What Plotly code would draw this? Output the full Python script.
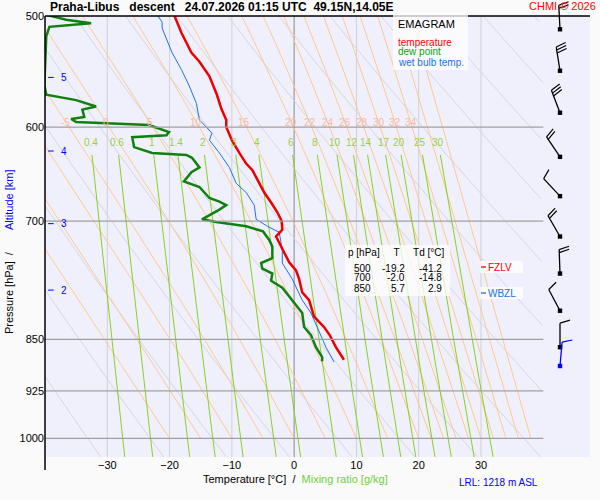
import numpy as np
import plotly.graph_objects as go

# ---------------- data ----------------
temp_p = [500,514,531,539,552,569,582,593,600,613,626,637,644,654,668,679,690,700,710,718,730,749,759,770,787,797,819,833,844,861,879]
temp_t = [-19.2,-18.1,-16.5,-15.2,-13.6,-12.4,-11.7,-10.9,-10.9,-10.0,-8.8,-7.7,-6.7,-5.9,-4.8,-3.7,-2.7,-2.0,-1.9,-2.9,-2.1,-0.8,0.3,0.8,1.3,2.4,3.2,4.8,5.7,6.7,8.0]

wb_p = [499,505,510,531,546,560,577,593,600,606,613,626,641,658,668,682,698,706,713,734,750,770,797,814,833,861,882]
wb_t = [-22.0,-21.2,-21.2,-19.6,-18.1,-16.9,-15.7,-15.2,-14.1,-13.2,-13.6,-12.0,-10.4,-9.3,-7.7,-6.4,-6.1,-4.3,-2.4,-1.9,-1.9,-0.3,1.3,2.7,3.7,5.1,6.4]

dew_p = [499,503,506,509,517,560,569,574,580,583,590,592,595,596,598,605,608,610,620,626,628,631,641,646,656,662,674,678,682,687,698,701,706,712,722,730,744,750,757,763,772,781,797,814,833,844,861,875,881]
dew_t = [-39.8,-36.6,-32.6,-39.3,-39.8,-40.1,-39.8,-35.0,-31.8,-34.0,-33.7,-35.8,-35.0,-30.2,-23.3,-20.1,-20.5,-26.0,-25.7,-22.8,-17.3,-16.4,-15.2,-16.5,-17.7,-15.2,-13.6,-12.0,-10.9,-12.0,-14.8,-12.5,-7.7,-5.0,-4.0,-3.5,-3.5,-5.3,-5.1,-3.5,-3.7,-1.9,-0.3,1.3,1.6,2.7,3.5,4.5,4.5]

press_ticks = [500,600,700,850,925,1000]
temp_ticks = [-30,-20,-10,0,10,20,30]
alt_km = [5,4,3,2]
alt_p = [553,624,703,784]

mix_ratios = [0.4,0.6,1,1.4,2,3,4,6,8,10,12,14,17,20,25,30]
theta_w_labeled = [-5,0,5,10,15,20,22,24,26,28,30,32,34]
theta_w_extra = [-20,-15,-10,36,38]
dry_thetas = list(range(230,420,10))

wind_p = [511,547,586,630,672,718,763,811,861,888]
wind_dir = [357,351,339,326,317,330,358,332,0,5]
wind_spd = [20,30,30,20,10,20,20,10,10,10]
wind_col = ['black']*9 + ['blue']

table_rows = [(500,-19.2,-41.2),(700,-2.0,-14.8),(850,5.7,2.9)]

# -------------- helpers --------------
XMIN, XMAX = -40, 47.5
PTOP, PBOT = 500, 1031
L, R, T, B = 45, 10, 16, 43
W, H = 600, 500
PW, PH = W-L-R, H-T-B
TCLIP = 40

def px2paper(x, y):
    return (x-L)/PW, (H-B-y)/PH

def es(t):
    return 6.112*np.exp(17.67*t/(t+243.5))

def clip(x, y):
    x = np.asarray(x, float); y = np.asarray(y, float)
    m = x <= TCLIP
    return np.where(m, x, np.nan), y

def moist(tw):
    def dTdp(p, Tk):
        tc = Tk-273.15
        rs = 0.622*es(tc)/(p-es(tc))
        Lv, Rd, cp = 2.5e6, 287.0, 1004.0
        num = Rd*Tk + Lv*rs
        den = cp + Lv*Lv*rs*0.622/(Rd*Tk*Tk)
        return num/(p*den)
    Tk = tw+273.15; p = 1000.0
    pts = [(p, Tk)]
    while p > 490:
        dp = -2.0
        Tk += dTdp(p, Tk)*dp; p += dp
        pts.append((p, Tk))
    return [q[0] for q in pts], [q[1]-273.15 for q in pts]

fig = go.Figure()

pp = np.linspace(480, 1060, 120)
for th in dry_thetas:
    cx, cy = clip(th*(pp/1000)**0.286-273.15, pp)
    fig.add_trace(go.Scatter(x=cx, y=cy, mode='lines',
                             line=dict(color='#d6d6dc', width=1), hoverinfo='skip', showlegend=False))
for tw in theta_w_labeled + theta_w_extra:
    mp, mt = moist(tw)
    cx, cy = clip(mt, mp)
    fig.add_trace(go.Scatter(x=cx, y=cy, mode='lines', line=dict(color='#ffc890', width=1),
                             hoverinfo='skip', showlegend=False))
pm = np.linspace(628, 1060, 40)
for w in mix_ratios:
    e = w*pm/(622+w)
    ln = np.log(e/6.112)
    tm = 243.5*ln/(17.67-ln)
    fig.add_trace(go.Scatter(x=tm, y=pm, mode='lines', line=dict(color='#88d020', width=1),
                             hoverinfo='skip', showlegend=False))
    e0 = w*615/(622+w); l0 = np.log(e0/6.112)
    fig.add_annotation(x=243.5*l0/(17.67-l0), y=np.log10(615), text=f"{w:g}", showarrow=False,
                       font=dict(size=10, color='#98d040', family='Liberation Sans'))
for tw in theta_w_labeled:
    mp, mt = moist(tw)
    tl = float(np.interp(595, mp[::-1], mt[::-1]))
    fig.add_annotation(x=tl, y=np.log10(595), text=f"{tw:g}", showarrow=False,
                       font=dict(size=10, color='#f8b8a0', family='Liberation Sans'))

fig.add_trace(go.Scatter(x=dew_t, y=dew_p, mode='lines', line=dict(color='#108010', width=2.5), showlegend=False))
fig.add_trace(go.Scatter(x=wb_t, y=wb_p, mode='lines', line=dict(color='#2070e0', width=1), showlegend=False))
fig.add_trace(go.Scatter(x=temp_t, y=temp_p, mode='lines', line=dict(color='#ee0000', width=2.5), showlegend=False))

shapes = []
for t in temp_ticks:
    shapes.append(dict(type='line', x0=t, x1=t, y0=PTOP, y1=PBOT, xref='x', yref='y',
                       line=dict(color='#888' if t == 0 else '#d0d0d8', width=1), layer='below'))
for p in press_ticks[1:]:
    shapes.append(dict(type='line', x0=XMIN, x1=40, y0=p, y1=p, xref='x', yref='y',
                       line=dict(color='#a0a0a0', width=1.2)))
shapes.append(dict(type='line', x0=0, x1=1, y0=1, y1=1, xref='paper', yref='paper', line=dict(color='black', width=1.5)))
shapes.append(dict(type='line', x0=0, x1=0, y0=px2paper(0,470)[1], y1=1, xref='paper', yref='paper', line=dict(color='black', width=1.5)))
for a, p in zip(alt_km, alt_p):
    shapes.append(dict(type='line', x0=-39.5, x1=-38.6, y0=p, y1=p, xref='x', yref='y', line=dict(color='blue', width=1)))
    fig.add_annotation(x=-37.8, y=np.log10(p), text=str(a), showarrow=False, xanchor='left',
                       font=dict(size=10, color='blue', family='Liberation Sans'))

def ppx(p):
    return H-B-PH*(np.log10(PBOT)-np.log10(p))/(np.log10(PBOT)-np.log10(PTOP))
for p, d, s, c in zip(wind_p, wind_dir, wind_spd, wind_col):
    bx, by = 560, ppx(p)
    a = np.radians(d)
    ux, uy = np.sin(a), -np.cos(a)
    tx, ty = bx+24*ux, by+24*uy
    x0, y0 = px2paper(bx, by); x1, y1 = px2paper(tx, ty)
    shapes.append(dict(type='line', x0=x0, y0=y0, x1=x1, y1=y1, xref='paper', yref='paper', line=dict(color=c, width=1.3)))
    shapes.append(dict(type='rect', x0=x0-0.004, x1=x0+0.004, y0=y0-0.005, y1=y0+0.005, xref='paper', yref='paper',
                       line=dict(color=c, width=0), fillcolor=c))
    fx, fy = -uy, ux
    for i in range(int(s//10)):
        sx, sy = tx-3*i*ux, ty-3*i*uy
        ex, ey = sx+10*fx+3*ux, sy+10*fy+3*uy
        a0, b0 = px2paper(sx, sy); a1, b1 = px2paper(ex, ey)
        shapes.append(dict(type='line', x0=a0, y0=b0, x1=a1, y1=b1, xref='paper', yref='paper', line=dict(color=c, width=1.2)))

shapes.append(dict(type='rect', x0=px2paper(393,0)[0], x1=px2paper(468,0)[0], y0=px2paper(0,70)[1], y1=px2paper(0,14)[1],
                   xref='paper', yref='paper', fillcolor='rgba(255,255,255,0.75)', line=dict(width=0)))
shapes.append(dict(type='rect', x0=px2paper(345,0)[0], x1=px2paper(450,0)[0], y0=px2paper(0,296)[1], y1=px2paper(0,245)[1],
                   xref='paper', yref='paper', fillcolor='rgba(255,255,255,0.75)', line=dict(width=0)))
for yy, col in ((267, 'red'), (293, '#2070e0')):
    shapes.append(dict(type='rect', x0=px2paper(480,0)[0], x1=px2paper(523,0)[0], y0=px2paper(0,yy+6)[1], y1=px2paper(0,yy-6)[1],
                       xref='paper', yref='paper', fillcolor='rgba(255,255,255,0.7)', line=dict(width=0)))
    shapes.append(dict(type='line', x0=px2paper(481,0)[0], x1=px2paper(486,0)[0], y0=px2paper(0,yy)[1], y1=px2paper(0,yy)[1],
                       xref='paper', yref='paper', line=dict(color=col, width=1.3)))

def ann(x, y, text, size=11, color='black', anchor='left', **kw):
    xp, yp = px2paper(x, y)
    fig.add_annotation(x=xp, y=yp, xref='paper', yref='paper', text=text, showarrow=False, xanchor=anchor,
                       yanchor='middle', font=dict(size=size, color=color, family='Liberation Sans'), **kw)

ann(396, 24, 'EMAGRAM', 11)
ann(396, 42, 'temperature', 10, 'red')
ann(396, 52, 'dew point', 10, '#10a010')
ann(396, 62, 'wet bulb temp.', 10, '#2070e0')
ann(346, 253, 'p [hPa]     T     Td [°C]', 10)
for i, (p, t, td) in enumerate(table_rows):
    ann(373, 268+10*i, str(p), 10, anchor='right')
    ann(407, 268+10*i, f"{t:.1f}", 10, anchor='right')
    ann(444, 268+10*i, f"{td:.1f}", 10, anchor='right')
ann(486, 267, 'FZLV', 10, 'red')
ann(486, 293, 'WBZL', 10, '#2070e0')
ann(48, 7, '<b>Praha-Libus   descent   24.07.2026 01:15 UTC  49.15N,14.05E</b>', 12)
ann(598, 6, 'CHMI © 2026', 11, 'red', anchor='right')
ann(295, 479, 'Temperature [°C]  /  <span style="color:#70d040">Mixing ratio [g/kg]</span>', 11, anchor='center')
ann(540, 482, 'LRL: 1218 m ASL', 10, 'blue', anchor='right')
ann(9, 290, 'Pressure [hPa]  /  ', 11, anchor='center', textangle=-90)
ann(9, 200, 'Altitude [km]', 11, 'blue', anchor='center', textangle=-90)

fig.update_layout(
    width=W, height=H, margin=dict(l=L, r=R, t=T, b=B, autoexpand=False),
    paper_bgcolor='#fafafa', plot_bgcolor='#f0f0fc', shapes=shapes,
    font=dict(family='Liberation Sans', size=11, color='black'),
    xaxis=dict(range=[XMIN, XMAX], tickvals=temp_ticks, showgrid=False, zeroline=False,
               ticks='', tickfont=dict(size=11), automargin=False),
    yaxis=dict(type='log', range=[np.log10(PBOT), np.log10(PTOP)], tickvals=press_ticks,
               showgrid=False, zeroline=False, ticks='', tickfont=dict(size=11), automargin=False),
)
fig.write_html("out.html", config={'displayModeBar': False},
               post_script="document.body.style.margin='0';document.body.style.background='#fafafa';")
